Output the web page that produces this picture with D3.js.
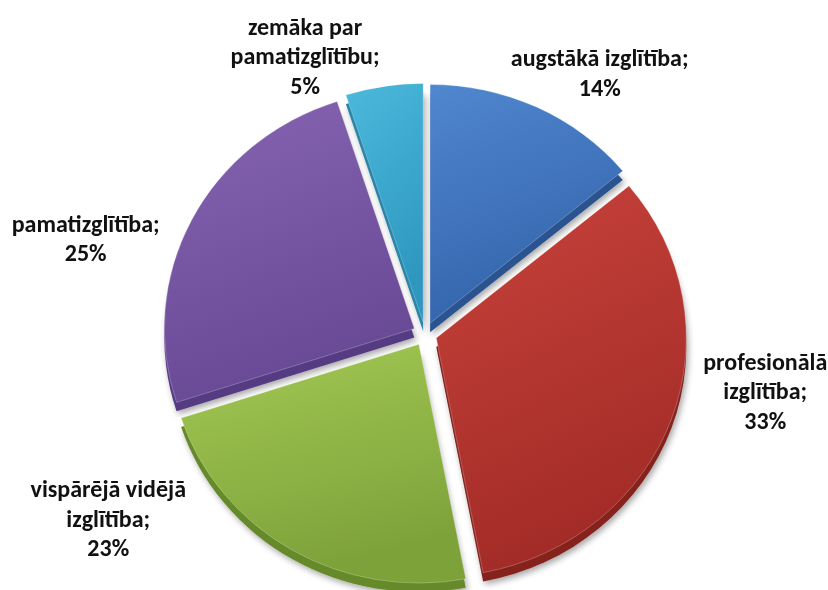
<!DOCTYPE html>
<html>
<head>
<meta charset="utf-8">
<script src="https://cdn.jsdelivr.net/npm/d3@7"></script>
<style>
  body { margin: 0; background: #fff; }
  text { font-family: Carlito, Calibri, "Open Sans", sans-serif; font-weight: bold; fill: #111; }
</style>
</head>
<body>
<svg id="chart" width="828" height="590"></svg>
<script>
// data, clockwise from 12 o'clock
const categories = ["augstākā izglītība", "profesionālā izglītība", "vispārējā vidējā izglītība", "pamatizglītība", "zemāka par pamatizglītību"];
const shares = [14, 33, 23, 25, 5];
const labelLines = [
  ["augstākā izglītība;"],
  ["profesionālā", "izglītība;"],
  ["vispārējā vidējā", "izglītība;"],
  ["pamatizglītība;"],
  ["zemāka par", "pamatizglītību;"]
];
const topColors = [["#5087cf", "#3364ab"], ["#c8433b", "#a32b27"], ["#a3c954", "#7ea23a"], ["#8664b1", "#684996"], ["#4bb9dc", "#2f97bf"]];
const sideColors = ["#2a5290", "#85211e", "#668a2c", "#553a82", "#2a86a8"];

const svg = d3.select("#chart");
const cx = 425, cy = 334, r = 250, squash = 0.955, explode = 12, depth = 9;
// label nudges away from the radial anchor (manual, like Excel's dragged labels)
const labelR = 300;
const nudge = [[47, 10], [58, -45], [-164, -74], [-72, 40], [-73, 18]];

const defs = svg.append("defs");
const f = defs.append("filter").attr("id", "shadow")
    .attr("x", "-10%").attr("y", "-10%").attr("width", "130%").attr("height", "130%");
f.append("feDropShadow").attr("dx", 2).attr("dy", 3).attr("stdDeviation", 3)
    .attr("flood-color", "#000").attr("flood-opacity", 0.35);

topColors.forEach((c, i) => {
  const g = defs.append("linearGradient").attr("id", "grad" + i)
      .attr("x1", 0).attr("y1", 0).attr("x2", 0.3).attr("y2", 1);
  g.append("stop").attr("offset", "0%").attr("stop-color", c[0]);
  g.append("stop").attr("offset", "100%").attr("stop-color", c[1]);
});

const pie = d3.pie().sort(null).value(d => d);
const arcs = pie(shares);
const arc = d3.arc().innerRadius(0).outerRadius(r);

function offset(d) {
  const a = (d.startAngle + d.endAngle) / 2;
  return [Math.sin(a) * explode, -Math.cos(a) * explode];
}

const sides = svg.append("g").attr("filter", "url(#shadow)");
sides.selectAll("path").data(arcs).join("path")
    .attr("transform", d => {
      const [ox, oy] = offset(d);
      return `translate(${cx + ox},${cy + oy + depth}) scale(1,${squash})`;
    })
    .attr("d", arc)
    .attr("fill", (d, i) => sideColors[i]);

const tops = svg.append("g");
tops.selectAll("path").data(arcs).join("path")
    .attr("transform", d => {
      const [ox, oy] = offset(d);
      return `translate(${cx + ox},${cy + oy}) scale(1,${squash})`;
    })
    .attr("d", arc)
    .attr("fill", (d, i) => `url(#grad${i})`)
    .attr("stroke", "rgba(255,255,255,0.25)")
    .attr("stroke-width", 1);

// labels
const labels = svg.append("g");
const lineH = 29.5;
const labelArc = d3.arc().innerRadius(labelR).outerRadius(labelR);
labels.selectAll("text").data(arcs).join("text")
    .attr("text-anchor", "middle")
    .style("font-size", "24px")
    .each(function(d, i) {
      const lines = labelLines[i].concat([shares[i] + "%"]);
      const [px, py] = labelArc.centroid(d);
      const x = cx + px + nudge[i][0];
      const y0 = cy + py + nudge[i][1] - (lines.length - 1) * lineH / 2;
      d3.select(this).selectAll("tspan").data(lines).join("tspan")
          .attr("x", x)
          .attr("y", (t, k) => y0 + k * lineH)
          .attr("dominant-baseline", "central")
          .text(t => t);
    });

// fit the font to the reference text width (Calibri may be missing)
const probe = labels.selectAll("text").filter((d, i) => i === 3).node();
const w = probe.querySelector("tspan").getComputedTextLength();
if (w > 0) labels.selectAll("text").style("font-size", (24 * 148 / w).toFixed(1) + "px");
</script>
</body>
</html>
